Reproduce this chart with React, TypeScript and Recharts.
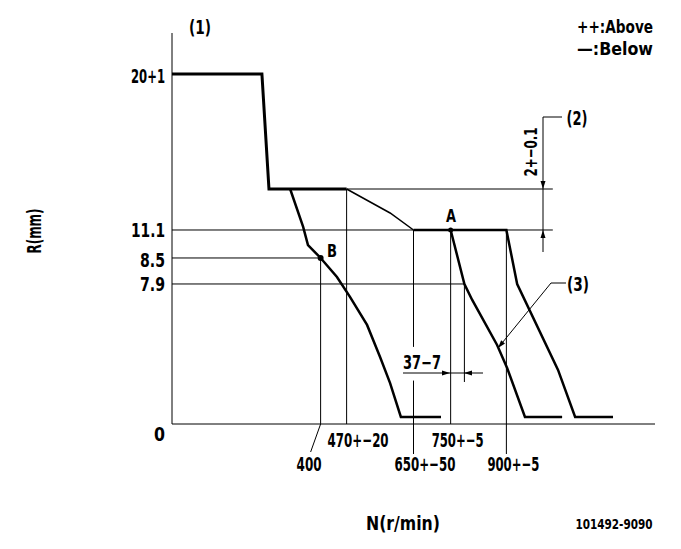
import React from "react";
import { LineChart, Line, XAxis, YAxis, ReferenceLine, ReferenceDot } from "recharts";

// Governor characteristic: pump speed N (r/min) against rack position R (mm)
const fullLoadN = [0, 242, 261, 470];
const fullLoadR = [20, 20, 13.1, 13.1];
const bendN = [470, 587, 650];
const bendR = [13.1, 11.93, 11.1];
const lowN = [318, 353, 366, 400, 444, 479, 525, 560, 587, 616, 724];
const lowR = [13.1, 11.25, 9.7, 8.5, 8.06, 7.17, 5.59, 3.78, 2.31, 0.4, 0.4];
const midN = [750, 787, 808, 875, 902, 950, 1050];
const midR = [11.1, 7.9, 7.0, 4.46, 3.16, 0.4, 0.4];
const highN = [650, 900, 929, 1039, 1085, 1187];
const highR = [11.1, 11.1, 7.9, 3.05, 0.4, 0.4];

const rTicks = [0, 7.9, 8.5, 11.1, 20];
const rTickLabels = ["0", "7.9", "8.5", "11.1", "20+1"];
const nTicks = [400, 470, 650, 750, 900];
const nTickLabels = ["400", "470+−20", "650+−50", "750+−5", "900+−5"];

const toPoints = (ns: number[], rs: number[]) => ns.map((n, i) => ({ n, r: rs[i] }));

const FONT = "'DejaVu Sans Condensed', 'DejaVu Sans', sans-serif";
const textStyle = { fontFamily: FONT, fontWeight: 700, fill: "#000" } as const;

// narrow drafting lettering: squeeze each string to about 9px per character
function Txt({ x, y, children, size = 20, anchor = "start", transform, width }: any) {
  const s = String(children);
  const w = width ?? s.length * 9 - 2;
  return (
    <text
      x={x}
      y={y}
      transform={transform}
      dy="0.36em"
      textAnchor={anchor}
      fontSize={size}
      textLength={w}
      lengthAdjust="spacingAndGlyphs"
      style={textStyle}
    >
      {s}
    </text>
  );
}

// The R axis is schematic: every stretch between marked values has its own mm-per-pixel.
// Each knot is [value, fraction of axis height].
const rKnots: [number, number][] = [
  [0, 0],
  [7.9, 0.3581],
  [8.5, 0.4246],
  [11.1, 0.4962],
  [13.1, 0.601],
  [20, 0.8951],
  [22.5, 1],
];

function schematicScale(knots: [number, number][], dom: number[] = [0, 1], rng: number[] = [0, 1]): any {
  const frac = (v: number) => {
    let i = 1;
    while (i < knots.length - 1 && v > knots[i][0]) i++;
    const [v0, f0] = knots[i - 1];
    const [v1, f1] = knots[i];
    return f0 + ((v - v0) * (f1 - f0)) / (v1 - v0);
  };
  const scale: any = (v: number) => rng[0] + frac(v) * (rng[1] - rng[0]);
  scale.domain = (d?: number[]) => {
    if (d === undefined) return dom;
    dom = [...d];
    return scale;
  };
  scale.range = (r?: number[]) => {
    if (r === undefined) return rng;
    rng = [...r];
    return scale;
  };
  scale.copy = () => schematicScale(knots, dom, rng);
  scale.ticks = () => knots.map((k) => k[0]);
  scale.tickFormat = () => (v: number) => String(v);
  return scale;
}

const rScale = schematicScale(rKnots);

function RTick({ x, y, payload }: any) {
  const i = rTicks.indexOf(payload.value);
  const label = rTickLabels[i] ?? String(payload.value);
  const shift = payload.value === 0 ? 10 : payload.value === 8.5 ? 2 : payload.value === 20 ? 2 : 0;
  return (
    <Txt x={x} y={y + shift} anchor="end" width={label.length === 1 ? 11 : undefined}>
      {label}
    </Txt>
  );
}

function NTick({ x, y, payload }: any) {
  const i = nTicks.indexOf(payload.value);
  const label = nTickLabels[i];
  const lowRow = i % 2 === 0;
  const first = i === 0;
  return (
    <g>
      {first && <line x1={x} y1={y} x2={x - 10} y2={y + 28} stroke="#000" strokeWidth={1} />}
      {lowRow && !first && <line x1={x} y1={y} x2={x} y2={y + 30} stroke="#000" strokeWidth={1} />}
      <Txt x={first ? x - 24 : x - 19} y={y + (lowRow ? 40 : 16)}>
        {label}
      </Txt>
    </g>
  );
}

function arrow(tx: number, ty: number, fromX: number, fromY: number, len = 8, half = 2.5) {
  const a = Math.atan2(ty - fromY, tx - fromX);
  const bx = tx - len * Math.cos(a);
  const by = ty - len * Math.sin(a);
  const px = -Math.sin(a) * half;
  const py = Math.cos(a) * half;
  return `${tx},${ty} ${bx + px},${by + py} ${bx - px},${by - py}`;
}

const thin = { stroke: "#000", strokeWidth: 1, ifOverflow: "visible" as const };

export default function App() {
  return (
    <div style={{ position: "absolute", left: 0, top: 0, width: 681, height: 549, background: "#fff" }}>
      <LineChart width={681} height={549} margin={{ top: 33, right: 26, bottom: 95, left: 112 }}>
        <XAxis
          dataKey="n"
          type="number"
          domain={[0, 1300]}
          ticks={nTicks}
          interval={0}
          allowDataOverflow
          height={30}
          tickSize={0}
          tickMargin={0}
          axisLine={{ stroke: "#000", strokeWidth: 1 }}
          tickLine={false}
          tick={<NTick />}
        />
        <YAxis
          type="number"
          domain={[0, 22.5]}
          scale={rScale}
          ticks={rTicks}
          interval={0}
          allowDataOverflow
          width={60}
          tickSize={0}
          tickMargin={7}
          axisLine={{ stroke: "#000", strokeWidth: 1 }}
          tickLine={false}
          tick={<RTick />}
        />

        <ReferenceLine segment={[{ x: 470, y: 13.1 }, { x: 1025, y: 13.1 }]} {...thin} />
        <ReferenceLine segment={[{ x: 0, y: 11.1 }, { x: 650, y: 11.1 }]} {...thin} />
        <ReferenceLine segment={[{ x: 900, y: 11.1 }, { x: 1025, y: 11.1 }]} {...thin} />
        <ReferenceLine segment={[{ x: 0, y: 8.5 }, { x: 400, y: 8.5 }]} {...thin} />
        <ReferenceLine segment={[{ x: 0, y: 7.9 }, { x: 787, y: 7.9 }]} {...thin} />
        <ReferenceLine segment={[{ x: 400, y: 8.5 }, { x: 400, y: 0 }]} {...thin} />
        <ReferenceLine segment={[{ x: 470, y: 13.1 }, { x: 470, y: 0 }]} {...thin} />
        <ReferenceLine segment={[{ x: 650, y: 11.1 }, { x: 650, y: 4.35 }]} {...thin} />
        <ReferenceLine segment={[{ x: 650, y: 2.45 }, { x: 650, y: 0 }]} {...thin} />
        <ReferenceLine segment={[{ x: 750, y: 11.1 }, { x: 750, y: 0 }]} {...thin} />
        <ReferenceLine segment={[{ x: 787, y: 7.9 }, { x: 787, y: 2.37 }]} {...thin} />
        <ReferenceLine segment={[{ x: 900, y: 11.1 }, { x: 900, y: 0 }]} {...thin} />

        <Line data={toPoints(fullLoadN, fullLoadR)} dataKey="r" type="linear" stroke="#000" strokeWidth={3} dot={false} isAnimationActive={false} />
        <Line data={toPoints(bendN, bendR)} dataKey="r" type="linear" stroke="#000" strokeWidth={1.5} dot={false} isAnimationActive={false} />
        <Line data={toPoints(lowN, lowR)} dataKey="r" type="linear" stroke="#000" strokeWidth={2.5} dot={false} isAnimationActive={false} />
        <Line data={toPoints(midN, midR)} dataKey="r" type="linear" stroke="#000" strokeWidth={2.5} dot={false} isAnimationActive={false} />
        <Line data={toPoints(highN, highR)} dataKey="r" type="linear" stroke="#000" strokeWidth={2.5} dot={false} isAnimationActive={false} />

        <ReferenceDot x={400} y={8.5} r={3} fill="#000" stroke="none" />
        <ReferenceDot x={750} y={11.1} r={2.5} fill="#000" stroke="none" />
      </LineChart>

      <svg width={681} height={549} style={{ position: "absolute", left: 0, top: 0, pointerEvents: "none" }}>
        <Txt x={200} y={27} anchor="middle" size={19} width={22}>(1)</Txt>
        <Txt x={577} y={27} size={18} width={76}>++:Above</Txt>
        <Txt x={577} y={49} size={18} width={76}>—:Below</Txt>

        <Txt transform="translate(34,231) rotate(-90)" x={0} y={0} anchor="middle" size={19} width={45}>R(mm)</Txt>
        <Txt x={403} y={523} anchor="middle" size={20} width={74}>N(r/min)</Txt>
        <Txt x={614} y={524} anchor="middle" size={14} width={77}>101492-9090</Txt>

        <Txt x={451} y={216} anchor="middle" size={18} width={10}>A</Txt>
        <Txt x={332} y={251} anchor="middle" size={18} width={10}>B</Txt>

        {/* (2) step height dimension */}
        <line x1={543} y1={117} x2={562} y2={117} stroke="#000" />
        <line x1={543} y1={117} x2={543} y2={252} stroke="#000" />
        <polygon points={arrow(543, 189, 543, 117)} fill="#000" />
        <polygon points={arrow(543, 230, 543, 252)} fill="#000" />
        <Txt x={577} y={118} anchor="middle" size={19} width={21}>(2)</Txt>
        <Txt transform="translate(531,152) rotate(-90)" x={0} y={0} anchor="middle" size={18} width={49}>2+−0.1</Txt>

        {/* (3) leader */}
        <line x1={551} y1={283} x2={566} y2={283} stroke="#000" />
        <line x1={551} y1={283} x2={498} y2={348} stroke="#000" />
        <polygon points={arrow(498, 348, 551, 283)} fill="#000" />
        <Txt x={578} y={284} anchor="middle" size={19} width={22}>(3)</Txt>

        {/* 37-7 speed offset dimension */}
        <line x1={403} y1={373} x2={483} y2={373} stroke="#000" />
        <polygon points={arrow(450, 373, 403, 373)} fill="#000" />
        <polygon points={arrow(464, 373, 483, 373)} fill="#000" />
        <Txt x={422} y={362} anchor="middle" size={19} width={38}>37−7</Txt>
      </svg>
    </div>
  );
}
